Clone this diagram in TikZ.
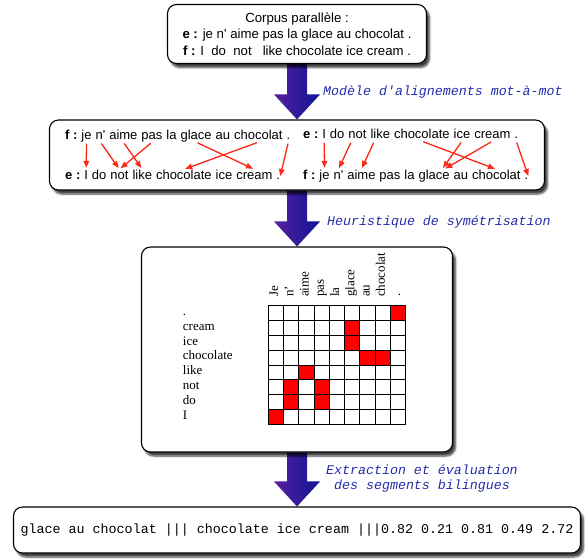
\documentclass[tikz,border=0pt]{standalone}
\usepackage{fontspec}
\setmainfont{Liberation Serif}
\setsansfont{Liberation Sans}
\setmonofont{Liberation Mono}
\usepackage{xcolor}
\usetikzlibrary{arrows.meta,positioning,calc,backgrounds,shadows.blur}

\definecolor{noteblue}{RGB}{35,45,170}
\definecolor{arrowleft}{RGB}{88,32,158}
\definecolor{arrowright}{RGB}{14,20,150}
\definecolor{linkred}{RGB}{250,40,20}

% one sentence as a chain of word nodes: name, start, label, words
\newcommand{\sentence}[4]{%
  \node[word, anchor=base west] (#1-0) at (#2) {\textbf{#3}};
  \foreach \w [count=\i, remember=\i as \j (initially 0)] in {#4}
    \node[word, base right=3.6pt of #1-\j] (#1-\i) {\w};
}
% big shaded arrow from one stage to the next
\newcommand{\bigdown}[2]{%
  \shade[left color=arrowleft, right color=arrowright]
    let \p1=(#1.south), \p2=(#2.north) in
    (\x1-10pt,\y1) -- (\x1+10pt,\y1) -- (\x1+10pt,\y2+25pt) -- (\x1+23pt,\y2+25pt)
    -- (\x1,\y2) -- (\x1-23pt,\y2+25pt) -- (\x1-10pt,\y2+25pt) -- cycle;
}

\begin{document}
\begin{tikzpicture}[x=1pt, y=1pt,
    >={Triangle[length=7pt,width=5.5pt]},
    stage/.style={draw, line width=1.1pt, rounded corners=9pt, fill=white,
                  blur shadow={shadow xshift=3pt, shadow yshift=-4pt,
                               shadow blur steps=6, shadow opacity=75}},
    word/.style={inner sep=0pt, text height=9.5pt, text depth=3pt,
                 font=\sffamily\fontsize{13}{15}\selectfont},
    link/.style={->, linkred, line width=1.3pt, shorten <=1.5pt, shorten >=1.5pt},
    stepnote/.style={anchor=west, inner sep=0pt, align=center, text=noteblue,
                     font=\ttfamily\itshape\fontsize{13.3}{15}\selectfont},
    rowhead/.style={anchor=mid west, inner sep=0pt, font=\rmfamily\fontsize{13}{15}\selectfont},
    colhead/.style={rotate=90, anchor=mid west, inner sep=0pt,
                    font=\rmfamily\fontsize{13}{15}\selectfont},
  ]
  \useasboundingbox (0,0) rectangle (585,-558);

  % --- stages ---
  \node[stage, minimum width=259pt, minimum height=59pt, align=center,
        font=\sffamily\fontsize{13.2}{16.2}\selectfont] (corpus) at (297,-34)
    {Corpus parallèle :\\
     \textbf{e :} je n\textquotesingle{} aime pas la glace au chocolat .\\
     \textbf{f :} I\ \ do\ \ not\ \ \ like chocolate ice cream .};
  \node[stage, minimum width=495pt, minimum height=70pt] (align) at (297,-155) {};
  \node[stage, minimum width=311pt, minimum height=205pt] (matrix) at (297,-349.5) {};
  \node[stage, minimum width=567pt, minimum height=46pt,
        font=\ttfamily\fontsize{13.35}{15}\selectfont] (phrase) at (297,-530)
    {glace au chocolat ||| chocolate ice cream |||0.82 0.21 0.81 0.49 2.72};

  % --- big arrows and their notes ---
  \begin{scope}[on background layer]
    \bigdown{corpus}{align}
    \bigdown{align}{matrix}
    \bigdown{matrix}{phrase}
  \end{scope}
  \node[stepnote] (noteA) at (323,-92) {Modèle d'alignements mot-à-mot};
  \node[stepnote] (noteB) at (327,-222) {Heuristique de symétrisation};
  \node[stepnote] (noteC) at (326,-479) {Extraction et évaluation\\des segments bilingues};

  % --- word alignments, both directions ---
  \sentence{fa}{65,-139}{f :}{je,n\textquotesingle,aime,pas,la,glace,au,chocolat,.}
  \sentence{ea}{65,-179}{e :}{I,do,not,like,chocolate,ice,cream,.}
  \sentence{eb}{303,-138}{e :}{I,do,not,like,chocolate,ice,cream,.}
  \sentence{fb}{303,-179}{f :}{je,n\textquotesingle,aime,pas,la,glace,au,chocolat,.}

  \draw[link] (fa-1.south) -- (ea-1.north);
  \draw[link] (fa-2.south) -- (ea-3.north);
  \draw[link] (fa-3.south) -- (ea-4.north);
  \draw[link] (fa-4.south) -- (ea-3.north);
  \draw[link] (fa-6.south) -- (ea-7.north);
  \draw[link] (fa-8.south) -- (ea-5.north);
  \draw[link, shorten >=0pt] (fa-9.south) -- ($(ea-8.base)+(2,3)$);

  \draw[link] (eb-1.south) -- (fb-1.north);
  \draw[link] ($(eb-3.south)+(-6,0)$) -- (fb-2.north);
  \draw[link] ($(eb-4.south)+(-6,0)$) -- (fb-3.north);
  \draw[link] (eb-5.south) -- (fb-8.north);
  \draw[link] (eb-6.south) -- ($(fb-6.north)+(8,0)$);
  \draw[link] (eb-7.south) -- ($(fb-6.north)+(10,0)$);
  \draw[link, shorten >=0pt] (eb-8.south) -- ($(fb-9.base)+(2,3)$);

  % --- symmetrised alignment matrix ---
  \begin{scope}[shift={(268.3,-305.7)}]
    \foreach \c/\r in {9/1,6/2,6/3,7/4,8/4,3/5,2/6,4/6,2/7,4/7,1/8}
      \fill[red] ({15.25*(\c-1)},{-14.8*(\r-1)}) rectangle ++(15.25,-14.8);
    \draw[line width=0.8pt] (0,0) grid[xstep=15.25, ystep=14.8] (137.25,-118.4);
    \draw[line width=1.1pt] (0,0) rectangle (137.25,-118.4);
  \end{scope}
  \foreach \t [count=\i] in {Je,n',aime,pas,la,glace,au,chocolat,.}
    \node[colhead] (col-\i) at ({268.3+15.25*\i-7.625},-297) {\t};
  \foreach \t [count=\i] in {.,cream,ice,chocolate,like,not,do,I}
    \node[rowhead] (row-\i) at (182.7,{-305.7-14.8*\i+7.4}) {\t};
\end{tikzpicture}
\end{document}
